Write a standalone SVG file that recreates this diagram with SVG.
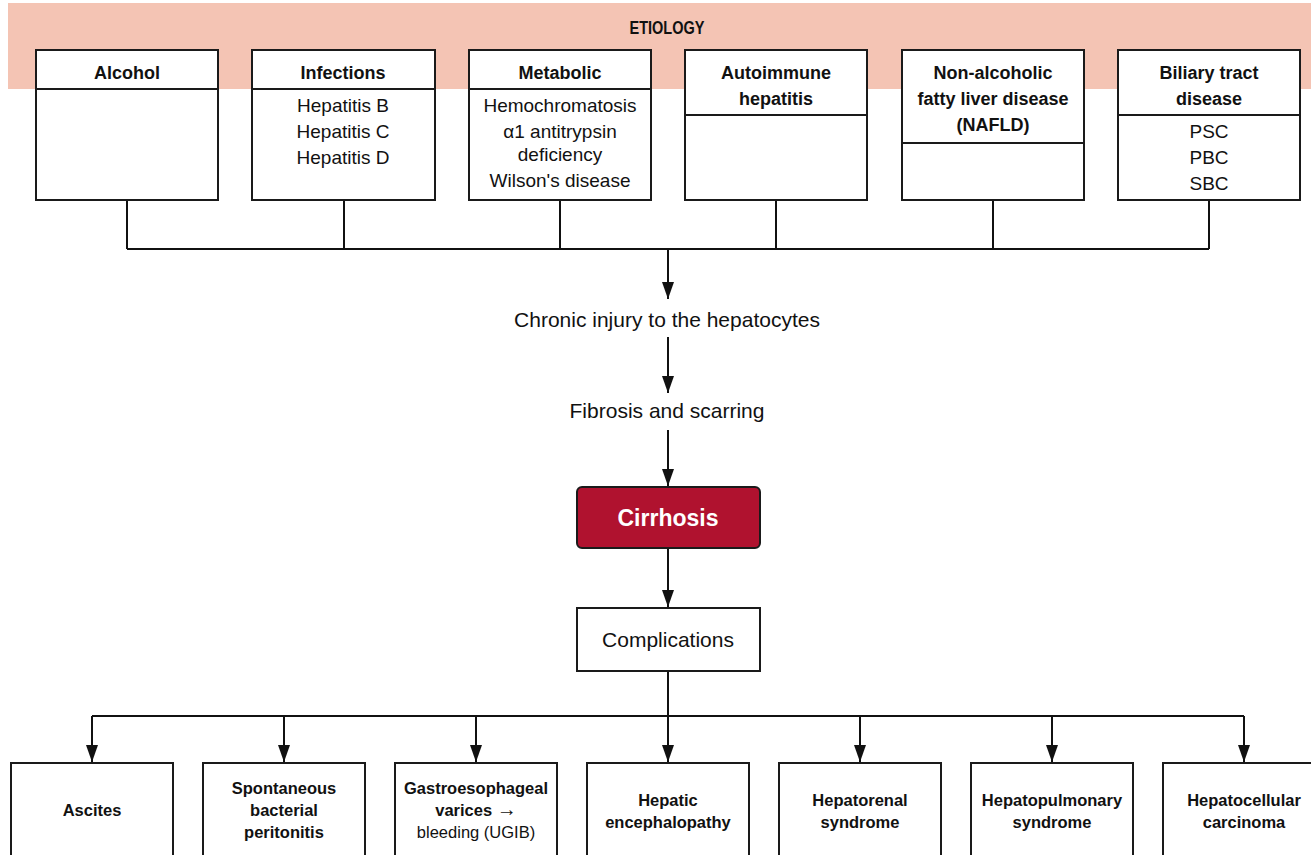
<svg xmlns="http://www.w3.org/2000/svg" width="1311" height="855" viewBox="0 0 1311 855">
<style>
.box{fill:#fff;stroke:#1a1a1a;stroke-width:2}
.div{stroke:#1a1a1a;stroke-width:2}
.h{font-family:"Liberation Sans",Arial,sans-serif;font-weight:bold;font-size:18px;fill:#111;text-anchor:middle}
.t{font-family:"Liberation Sans",Arial,sans-serif;font-size:19px;fill:#111;text-anchor:middle}
.b{font-family:"Liberation Sans",Arial,sans-serif;font-weight:bold;font-size:16.5px;fill:#111;text-anchor:middle}
.br{font-family:"Liberation Sans",Arial,sans-serif;font-size:16.5px;fill:#111;text-anchor:middle}
.m{font-family:"Liberation Sans",Arial,sans-serif;font-size:21px;fill:#111;text-anchor:middle}
.ln{fill:none;stroke:#111;stroke-width:2}
.ar{fill:none;stroke:#111;stroke-width:2;marker-end:url(#ah)}
</style>
<defs>
<marker id="ah" viewBox="0 0 17 12" refX="17" refY="6" markerWidth="17" markerHeight="12" markerUnits="userSpaceOnUse" orient="auto">
<path d="M0,0 L17,6 L0,12 z" fill="#111"/>
</marker>
</defs>
<rect x="0" y="0" width="1311" height="855" fill="#fff"/>
<rect id="band" x="8" y="3" width="1303" height="86" fill="#F4C4B4"/>
<text x="667" y="34" class="h" font-size="19" textLength="75" lengthAdjust="spacingAndGlyphs">ETIOLOGY</text>

<g id="connectors">
<path class="ln" d="M127,200 V249 M344,200 V249 M560,200 V249 M776,200 V249 M993,200 V249 M1209,200 V249 M127,249 H1209"/>
<path class="ar" d="M668,249 V299"/>
<path class="ar" d="M668,337 V393"/>
<path class="ar" d="M668,430 V486"/>
<path class="ar" d="M668,548 V607"/>
<path class="ln" d="M668,671 V716 M92,716 H1244"/>
<path class="ar" d="M92,716 V762"/>
<path class="ar" d="M284,716 V762"/>
<path class="ar" d="M476,716 V762"/>
<path class="ar" d="M668,716 V762"/>
<path class="ar" d="M860,716 V762"/>
<path class="ar" d="M1052,716 V762"/>
<path class="ar" d="M1244,716 V762"/>
</g>

<g id="alcohol">
<rect class="box" x="36" y="50" width="182" height="150"/>
<line class="div" x1="36" y1="89" x2="218" y2="89"/>
<text class="h" x="127" y="79">Alcohol</text>
</g>
<g id="infections">
<rect class="box" x="252" y="50" width="183" height="150"/>
<line class="div" x1="252" y1="89" x2="435" y2="89"/>
<text class="h" x="343" y="79">Infections</text>
<text class="t" x="343" y="112">Hepatitis B</text>
<text class="t" x="343" y="138">Hepatitis C</text>
<text class="t" x="343" y="164">Hepatitis D</text>
</g>
<g id="metabolic">
<rect class="box" x="469" y="50" width="182" height="150"/>
<line class="div" x1="469" y1="89" x2="651" y2="89"/>
<text class="h" x="560" y="79">Metabolic</text>
<text class="t" x="560" y="112">Hemochromatosis</text>
<text class="t" x="560" y="138">α1 antitrypsin</text>
<text class="t" x="560" y="161">deficiency</text>
<text class="t" x="560" y="187">Wilson's disease</text>
</g>
<g id="autoimmune">
<rect class="box" x="685" y="50" width="182" height="150"/>
<line class="div" x1="685" y1="115" x2="867" y2="115"/>
<text class="h" x="776" y="79">Autoimmune</text>
<text class="h" x="776" y="105">hepatitis</text>
</g>
<g id="nafld">
<rect class="box" x="902" y="50" width="182" height="150"/>
<line class="div" x1="902" y1="143" x2="1084" y2="143"/>
<text class="h" x="993" y="79">Non-alcoholic</text>
<text class="h" x="993" y="105">fatty liver disease</text>
<text class="h" x="993" y="131">(NAFLD)</text>
</g>
<g id="biliary">
<rect class="box" x="1118" y="50" width="182" height="150"/>
<line class="div" x1="1118" y1="115" x2="1300" y2="115"/>
<text class="h" x="1209" y="79">Biliary tract</text>
<text class="h" x="1209" y="105">disease</text>
<text class="t" x="1209" y="138">PSC</text>
<text class="t" x="1209" y="164">PBC</text>
<text class="t" x="1209" y="190">SBC</text>
</g>

<g id="injury">
<text class="m" x="667" y="327">Chronic injury to the hepatocytes</text>
</g>
<g id="fibrosis">
<text class="m" x="667" y="418">Fibrosis and scarring</text>
</g>
<g id="cirrhosis">
<rect x="577" y="487" width="183" height="61" rx="5" fill="#B0122F" stroke="#1a1a1a" stroke-width="2"/>
<text x="668" y="526" font-family="Liberation Sans, Arial, sans-serif" font-weight="bold" font-size="23" fill="#fff" text-anchor="middle">Cirrhosis</text>
</g>
<g id="complications">
<rect class="box" x="577" y="608" width="183" height="63"/>
<text class="m" x="668" y="647">Complications</text>
</g>

<g id="ascites">
<rect class="box" x="11" y="763" width="162" height="110"/>
<text class="b" x="92" y="816">Ascites</text>
</g>
<g id="sbp">
<rect class="box" x="203" y="763" width="162" height="110"/>
<text class="b" x="284" y="794">Spontaneous</text>
<text class="b" x="284" y="816">bacterial</text>
<text class="b" x="284" y="838">peritonitis</text>
</g>
<g id="varices">
<rect class="box" x="395" y="763" width="162" height="110"/>
<text class="b" x="476" y="794">Gastroesophageal</text>
<text class="b" x="476" y="816">varices <tspan font-size="20">→</tspan></text>
<text class="br" x="476" y="838">bleeding (UGIB)</text>
</g>
<g id="he">
<rect class="box" x="587" y="763" width="162" height="110"/>
<text class="b" x="668" y="806">Hepatic</text>
<text class="b" x="668" y="828">encephalopathy</text>
</g>
<g id="hrs">
<rect class="box" x="779" y="763" width="162" height="110"/>
<text class="b" x="860" y="806">Hepatorenal</text>
<text class="b" x="860" y="828">syndrome</text>
</g>
<g id="hps">
<rect class="box" x="971" y="763" width="162" height="110"/>
<text class="b" x="1052" y="806">Hepatopulmonary</text>
<text class="b" x="1052" y="828">syndrome</text>
</g>
<g id="hcc">
<rect class="box" x="1163" y="763" width="162" height="110"/>
<text class="b" x="1244" y="806">Hepatocellular</text>
<text class="b" x="1244" y="828">carcinoma</text>
</g>
</svg>
